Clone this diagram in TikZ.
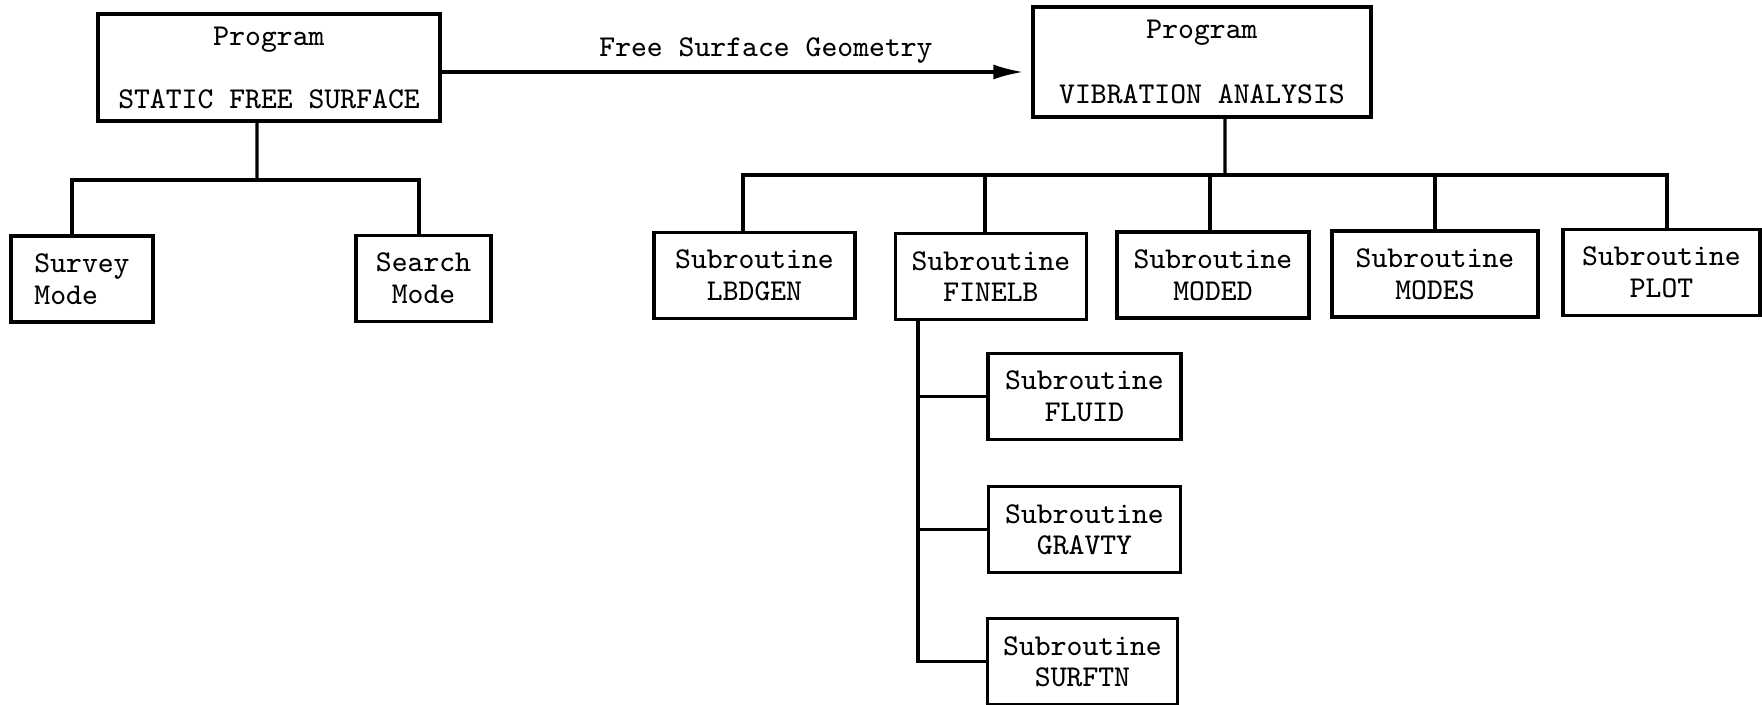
\documentclass[tikz,border=0pt]{standalone}
\usepackage{tikz}
\usetikzlibrary{positioning,arrows.meta}
\newcommand{\boxfont}{\fontsize{8.6}{9}\selectfont\ttfamily}
\newcommand{\progfont}{\fontsize{8.6}{10}\selectfont\ttfamily}

\begin{document}
\begin{tikzpicture}[x=0.1mm, y=-0.1mm,
  box/.style={draw, line width=0.9pt, align=center, inner sep=2pt},
  prog/.style={box, font=\progfont},
  sub/.style={box, font=\boxfont, minimum width=19.4mm, minimum height=8.6mm},
  tree/.style={line width=0.9pt},
  flow/.style={line width=0.9pt, -{Latex[length=3mm,width=1.5mm]}, shorten >=0.8mm}]
\useasboundingbox (0,0) rectangle (1762,705);

% the two programs
\node[prog, minimum width=34.2mm, minimum height=10.7mm] (stat) at (269,67.5)
  {Program\\[7.9pt]STATIC FREE SURFACE};
\node[prog, minimum width=33.8mm, minimum height=11mm] (vib) at (1202,62)
  {Program\\[8.5pt]VIBRATION ANALYSIS};

\coordinate (geo) at ([yshift=-0.45mm]stat.east);
\draw[flow] (geo) -- (geo -| vib.west)
  node[pos=0.55, above, font=\boxfont, inner sep=2pt] {Free Surface Geometry};

% modes of STATIC FREE SURFACE
\node[sub, minimum width=14.2mm, align=left] (survey) at (82,279) {Survey\\Mode};
\node[sub, minimum width=13.5mm] (search) at (423.5,278.5) {Search\\Mode};

\coordinate (sbus) at (257,180);
\draw[tree] ([xshift=-1.2mm]stat.south) -- (sbus);
\draw[tree] ([xshift=-1mm]survey.north) |- (sbus) -| ([xshift=-0.45mm]search.north);

% subroutines of VIBRATION ANALYSIS
\node[sub, minimum width=20.1mm] (lbdgen) at (754.5,275.5) {Subroutine\\LBDGEN};
\node[sub, minimum width=19.1mm] (finelb) at (991,276.5) {Subroutine\\FINELB};
\node[sub, minimum width=19.2mm] (moded) at (1213,275) {Subroutine\\MODED};
\node[sub, minimum width=20.6mm] (modes) at (1435,274) {Subroutine\\MODES};
\node[sub, minimum width=19.7mm] (plot) at (1661.5,272.5) {Subroutine\\PLOT};

\coordinate (vbus) at (1225,175);
\draw[tree] ([xshift=2.3mm]vib.south) -- (vbus);
\draw[tree] ([xshift=-1.15mm]lbdgen.north) |- (vbus) -| ([xshift=0.55mm]plot.north);
\draw[tree] ([xshift=-0.6mm]finelb.north) -- ++(0,-57.5);
\draw[tree] ([xshift=-0.3mm]moded.north) -- ++(0,-57);
\draw[tree] (modes.north) -- ++(0,-56);

% subroutines called by FINELB
\node[sub, minimum width=19.3mm] (fluid) at (1084.5,396.5) {Subroutine\\FLUID};
\node[sub, minimum width=19.2mm, below=4.4mm of fluid.south, anchor=north] (gravty) {Subroutine\\GRAVTY};
\node[sub, minimum width=19mm, below=4.3mm of gravty.south, anchor=north, xshift=-0.2mm] (surftn) {Subroutine\\SURFTN};

\coordinate (fstem) at ([xshift=-7.3mm]finelb.south);
\draw[tree] (fstem) |- (surftn.west);
\draw[tree] (fstem |- fluid.west) -- (fluid.west);
\draw[tree] (fstem |- gravty.west) -- (gravty.west);
\end{tikzpicture}
\end{document}
